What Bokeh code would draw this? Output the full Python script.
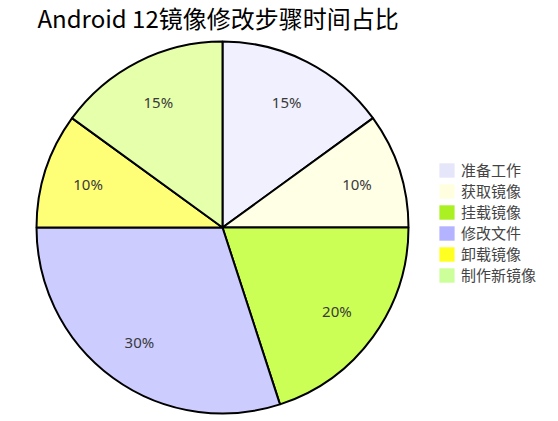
import math

from bokeh.plotting import figure
from bokeh.models import Range1d, Label, Legend, LegendItem, ColumnDataSource
from bokeh.embed import file_html
from bokeh.resources import INLINE

title = "Android 12镜像修改步骤时间占比"
steps = ["准备工作", "获取镜像", "挂载镜像", "修改文件", "卸载镜像", "制作新镜像"]
shares = [15, 10, 20, 30, 10, 15]
slice_colors = ["#f0f0ff", "#ffffe6", "#ccff55", "#ccccff", "#ffff77", "#e6ffaa"]
legend_colors = ["#e6e6fa", "#ffffe0", "#aaf022", "#b3b3ff", "#ffff22", "#ccff99"]

W, H = 550, 421
cx, cy, R = 222, 194, 186

p = figure(width=W, height=H, x_range=Range1d(0, W), y_range=Range1d(0, H),
           output_backend="svg", toolbar_location=None, min_border=0)
p.axis.visible = False
p.grid.visible = False
p.outline_line_color = None

# wedge angles, clockwise from 12 o'clock
total = float(sum(shares))
starts, ends, lx, ly, labels = [], [], [], [], []
acc = 0.0
for s in shares:
    a0 = math.pi / 2 - 2 * math.pi * acc / total
    acc += s
    a1 = math.pi / 2 - 2 * math.pi * acc / total
    starts.append(a0)
    ends.append(a1)
    mid = (a0 + a1) / 2
    lx.append(cx + 0.76 * R * math.cos(mid))
    ly.append(cy + 0.76 * R * math.sin(mid))
    labels.append("%d%%" % s)

src = ColumnDataSource(dict(start=starts, end=ends, color=slice_colors,
                            lx=lx, ly=ly, label=labels))
p.wedge(x=cx, y=cy, radius=R, start_angle="start", end_angle="end",
        direction="clock", fill_color="color", line_color="black",
        line_width=2, source=src)
p.text(x="lx", y="ly", text="label", source=src, text_align="center",
       text_baseline="middle", text_font_size="15px", text_color="#3a3a3a",
       text_font={"value": "Noto Sans"})

# legend uses its own (stronger) swatch colours
items = []
for name, col in zip(steps, legend_colors):
    r = p.rect(x=[float("nan")], y=[float("nan")], width=1, height=1,
               fill_color=col, line_color=None)
    items.append(LegendItem(label=name, renderers=[r]))
legend = Legend(items=items, location=(437, 136), glyph_width=19, glyph_height=18,
                label_height=18, spacing=0, padding=0, margin=0, label_standoff=5,
                label_text_font="Noto Sans CJK SC", label_text_font_size="15px",
                border_line_color=None, background_fill_alpha=0)
p.add_layout(legend)

p.add_layout(Label(x=37, y=H - 17, x_units="screen", y_units="screen", text=title,
                   text_font="Noto Sans CJK SC", text_font_size="24px",
                   text_baseline="middle", text_color="black"))

open("out.html", "w").write(file_html(p, INLINE))
